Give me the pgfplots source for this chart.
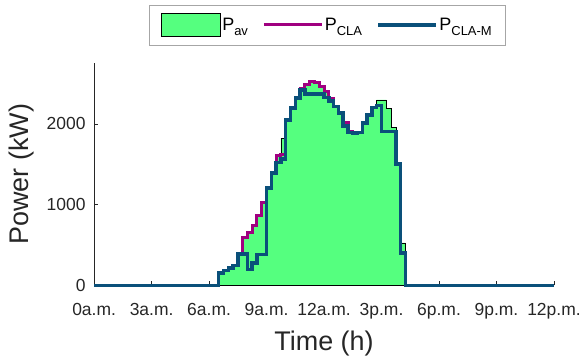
\documentclass[border=0pt]{standalone}
\usepackage{pgfplots}
\usepackage{pgfplotstable}
\pgfplotsset{compat=1.18}
\usepackage{fontspec}
\setmainfont{Liberation Sans}
\definecolor{avgreen}{RGB}{85,255,127}
\definecolor{clamag}{RGB}{160,0,128}
\definecolor{clamblue}{RGB}{10,80,122}
\definecolor{axgray}{RGB}{38,38,38}
\newcommand{\leg}[2]{#1\raisebox{-5pt}{\fontsize{13}{13}\selectfont #2}}

\pgfplotstableread{
t av cla clam
0 0 0 0
6.5 157 157 157
6.75 185 185 185
7 218 218 218
7.25 247 247 247
7.5 391 391 391
7.75 589 589 391
8 651 651 197
8.25 737 737 280
8.5 868 868 383
8.75 1030 1030 383
9 1205 1205 1205
9.25 1391 1391 1391
9.5 1608 1608 1522
9.75 1823 1618 1564
10 2050 2050 2050
10.25 2193 2193 2193
10.5 2317 2317 2317
10.75 2437 2437 2419
11 2488 2488 2367
11.25 2518 2518 2367
11.5 2508 2508 2367
11.75 2458 2458 2367
12 2402 2402 2325
12.25 2316 2316 2284
12.5 2214 2214 2214
12.75 2144 2144 2134
13 2012 2012 1972
13.25 1911 1911 1891
13.5 1885 1885 1885
13.75 1891 1891 1891
14 2008 2008 2008
14.25 2112 2112 2112
14.5 2202 2202 2202
14.75 2296 2226 2226
15 2296 1905 1905
15.25 2193 1905 1905
15.5 1955 1905 1905
15.75 1502 1502 1502
16 527 404 404
16.25 0 0 0
24 0 0 0
}\datatable

\begin{document}
\begin{tikzpicture}
\path (-94.3pt,-72pt) rectangle (489.7pt,286pt);
\begin{axis}[
 at={(0,0)}, anchor=south west,
 scale only axis, width=460.7pt, height=222.7pt,
 xmin=0, xmax=24, ymin=0, ymax=2750,
 axis x line*=bottom, axis y line*=left,
 axis line style={axgray, line width=0.6pt, -},
 xtick={0,3,...,24},
 xticklabels={0a.m.,3a.m.,6a.m.,9a.m.,12a.m.,3p.m.,6p.m.,9p.m.,12p.m.},
 ytick={0,1000,2000},
 tick align=inside,
 major tick length=4pt,
 tick style={axgray, line width=0.6pt},
 ticklabel style={font=\fontsize{17.5}{17.5}\selectfont, text=axgray},
 xticklabel style={yshift=-14pt},
 yticklabel style={xshift=-5pt},
 /pgf/number format/assume math mode=true,
 /pgf/number format/1000 sep={},
 scaled y ticks=false,
 xlabel={Time (h)}, ylabel={Power (kW)},
 label style={font=\fontsize{27}{27}\selectfont, text=axgray},
 xlabel style={at={(axis description cs:0.5,0)}, anchor=north, yshift=-42pt},
 ylabel style={at={(axis description cs:0,0.5)}, anchor=center, rotate=0, yshift=73pt},
 clip=false,
 legend columns=3,
 legend style={at={(0.507,1.082)}, anchor=south, draw=gray!70, fill=white,
   font=\fontsize{18}{18}\selectfont, inner xsep=12pt, inner ysep=8pt,
   nodes={inner xsep=1.5pt, inner ysep=2pt},
   /tikz/every even column/.append style={column sep=13pt}},
 legend cell align=left,
]
\addplot[const plot, fill=avgreen, draw=black, line width=0.5pt,
  legend image code/.code={\draw[fill=avgreen,draw=black,line width=0.6pt] (0pt,-11.5pt) rectangle (59pt,11.5pt);}]
  table[x=t,y=av] {\datatable} \closedcycle;
\addplot[const plot, clamag, line width=3pt,
  legend image code/.code={\draw[clamag,line width=3pt] (0pt,0pt) -- (58pt,0pt);}]
  table[x=t,y=cla] {\datatable};
\addplot[const plot, clamblue, line width=3.5pt,
  legend image code/.code={\draw[clamblue,line width=3.5pt] (0pt,0pt) -- (58pt,0pt);}]
  table[x=t,y=clam] {\datatable};
\legend{\leg{P}{av},\leg{P}{CLA},\leg{P}{CLA-M}}
\end{axis}
\end{tikzpicture}
\end{document}
